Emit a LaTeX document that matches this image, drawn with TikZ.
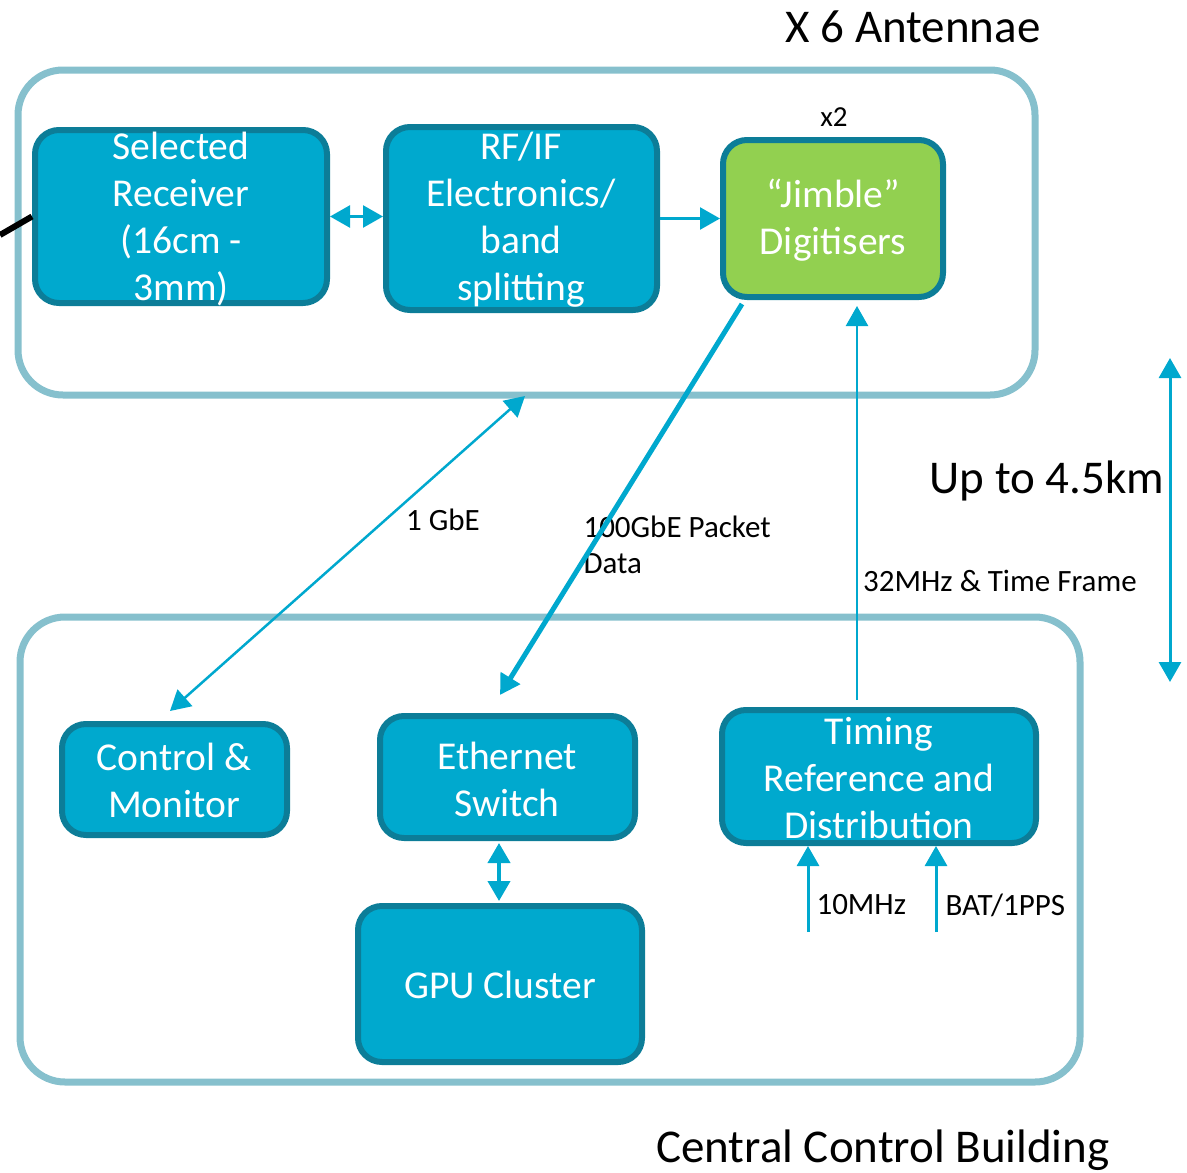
\documentclass[tikz,border=0pt]{standalone}
\usepackage{fontspec}
\setmainfont{Carlito}
\usetikzlibrary{arrows.meta,calc}
\definecolor{boxfill}{HTML}{00A9CE}
\definecolor{boxedge}{HTML}{0C7D98}
\definecolor{jimgreen}{HTML}{92D050}
\definecolor{framecol}{HTML}{86C0CD}
\definecolor{arrowcol}{HTML}{00A8CE}
\tikzset{
  frame/.style={draw=framecol, line width=7pt, rounded corners=45pt, inner sep=0pt},
  unit/.style={draw=boxedge, fill=boxfill, line width=6pt, rounded corners=24pt, inner sep=0pt},
  unittext/.style={text=white, align=center, font=\fontsize{39.5}{47}\selectfont},
  bigtext/.style={font=\fontsize{47}{56}\selectfont},
  smalltext/.style={font=\fontsize{31}{36}\selectfont, align=left},
  link/.style={draw=arrowcol, line width=2.5pt},
  tip/.style={-{Triangle[width=22pt,length=20pt]}},
  tips/.style={{Triangle[width=22pt,length=20pt]}-{Triangle[width=22pt,length=20pt]}},
}
\begin{document}
\begin{tikzpicture}[x=1pt,y=-1pt]
\useasboundingbox (0,0) rectangle (1187,1173);

% enclosing frames
\node[frame, minimum width=1017pt, minimum height=325pt] (ant) at (526.5,232.5) {};
\node[frame, minimum width=1060pt, minimum height=465pt] (ccb) at (550,849.5) {};

% antenna signal chain
\node[unit, minimum width=292pt, minimum height=173pt] (rx) at (181,216.5) {};
\node[unittext] (rxt) at (181,219) {Selected\\Receiver\\(16cm -\\3mm)};
\node[unit, minimum width=271pt, minimum height=183pt] (rf) at (521.5,218.5) {};
\node[unittext] (rft) at (521,220) {RF/IF\\Electronics/\\band\\splitting};
\node[unit, fill=jimgreen, minimum width=220pt, minimum height=157pt] (jim) at (833,218.5) {};
\node[unittext] (jimt) at (833,220) {“Jimble”\\Digitisers};
\node[font=\fontsize{29}{32}\selectfont] (x2) at (834,117) {x2};

% central building units
\node[unit, minimum width=225pt, minimum height=111pt] (ctl) at (174.5,779.5) {};
\node[unittext] (ctlt) at (174,780) {Control \&\\Monitor};
\node[unit, minimum width=255pt, minimum height=122pt] (eth) at (507.5,777) {};
\node[unittext] (etht) at (507,779) {Ethernet\\Switch};
\node[unit, minimum width=314pt, minimum height=133pt] (tim) at (879,776.5) {};
\node[unittext] (timt) at (879,778) {Timing\\Reference and\\Distribution};
\node[unit, minimum width=284pt, minimum height=156pt] (gpu) at (500,984) {};
\node[unittext] (gput) at (500,985) {GPU Cluster};

% titles and labels
\node[bigtext] (ttl) at (913,27) {X 6 Antennae};
\node[bigtext] (ccbt) at (883,1150) {Central Control Building};
\node[bigtext] (dist) at (1047,481) {Up to 4.5km};
\node[smalltext] (gbe) at (443,520) {1 GbE};
\node[smalltext, anchor=west] (pkt) at (580,545) {100GbE Packet\\Data};
\node[smalltext] (clk) at (1000,581) {32MHz \& Time Frame};
\node[smalltext, anchor=west] (ten) at (813,905) {10MHz};
\node[smalltext, anchor=west] (pps) at (942,905) {BAT/1PPS};

% feed from the antenna
\coordinate (feed) at (0,235);
\draw[black, line width=6pt] (feed) -- (rx.west);

% connectors
\draw[link, tips] (rx.east) -- (rx.east -| rf.west);
\draw[link, tip] (rf.east |- jim.west) -- (jim.west);

\coordinate (gbetop) at (525,396);
\coordinate (ctltop) at (170,711);
\draw[link, tips] (gbetop) -- (ctltop);

\coordinate (jimout) at ($(jim.south west)+(22,4)$);
\coordinate (ethin) at ($(eth.north west)+(123,-18)$);
\draw[link, line width=5pt, tip] (jimout) -- (ethin);

\coordinate (clkfoot) at ($(tim.north)+(-22,-7)$);
\coordinate (clkhead) at ($(jim.south)+(24,6)$);
\draw[link, tip] (clkfoot) -- (clkhead);

\coordinate (tenfoot) at (808,932);
\coordinate (ppsfoot) at (936,932);
\draw[link, line width=3pt, tip] (tenfoot) -- (tenfoot |- tim.south);
\draw[link, line width=3pt, tip] (ppsfoot) -- (ppsfoot |- tim.south);

\coordinate (busx) at (499,0);
\draw[link, line width=4pt, tips, shorten <=2pt, shorten >=2pt] (eth.south -| busx) -- (gpu.north -| busx);

\coordinate (disttop) at (1170,358);
\coordinate (distbot) at (1170,682);
\draw[link, line width=3pt, tips] (disttop) -- (distbot);
\end{tikzpicture}
\end{document}
